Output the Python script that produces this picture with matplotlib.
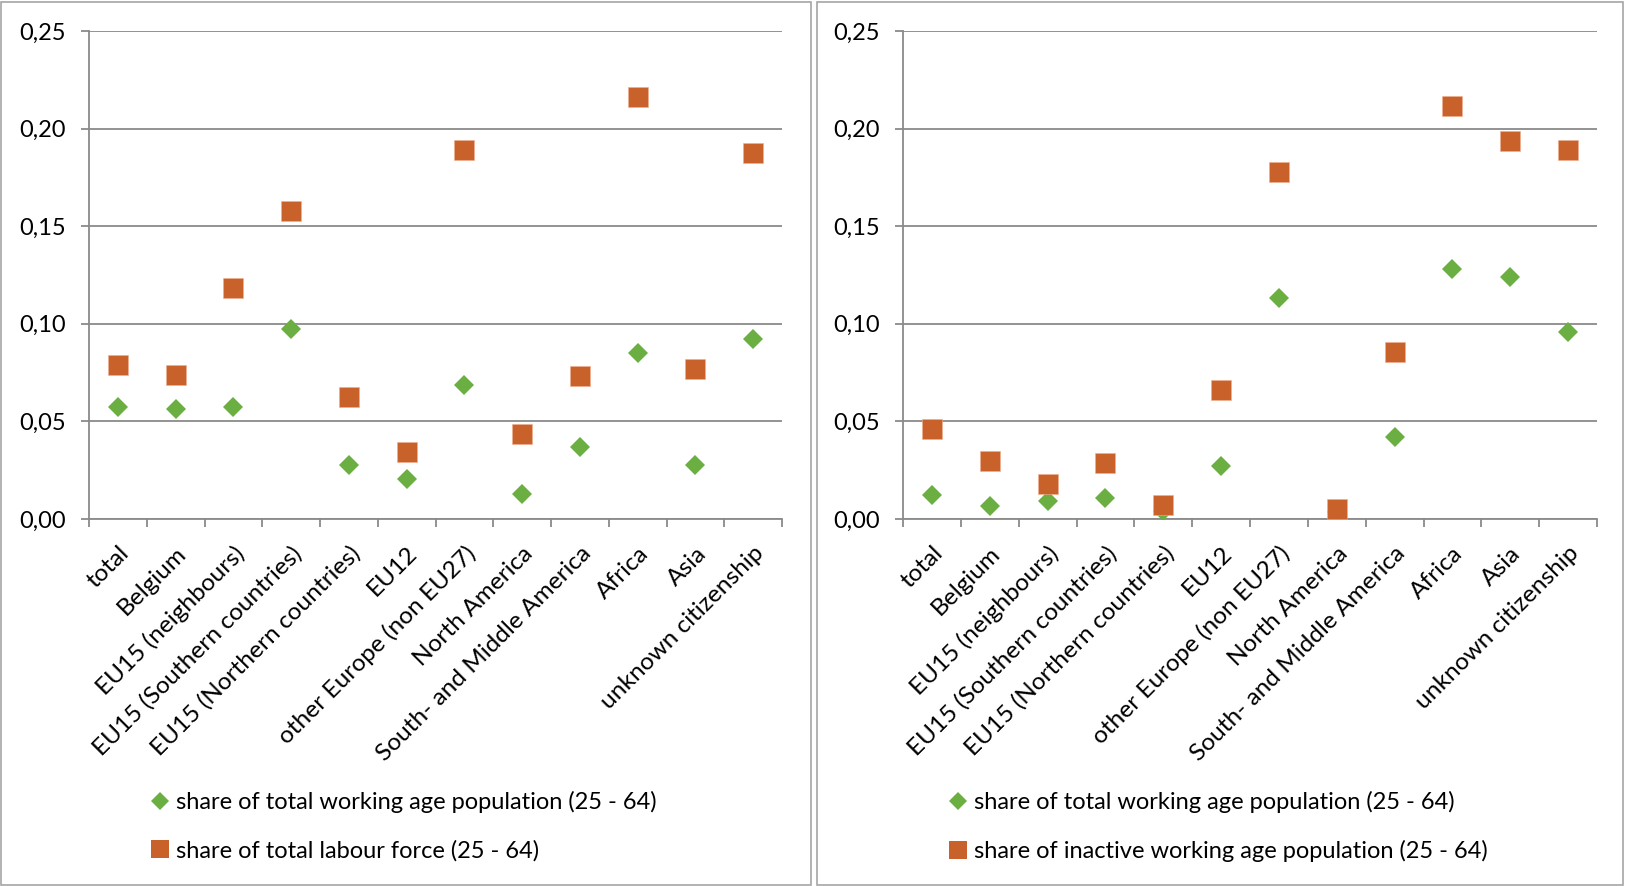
import matplotlib
matplotlib.use("Agg")
import matplotlib.pyplot as plt
from matplotlib.lines import Line2D
from matplotlib.patches import Rectangle
from matplotlib.ticker import FuncFormatter, FixedLocator
from matplotlib.transforms import ScaledTranslation

plt.rcParams['font.family'] = ['Lato', 'DejaVu Sans']

categories = [
    "total", "Belgium", "EU15 (neighbours)", "EU15 (Southern countries)",
    "EU15 (Northern countries)", "EU12", "other Europe (non EU27)",
    "North America", "South- and Middle America", "Africa", "Asia",
    "unknown citizenship",
]

# left panel
working_age_left = [0.0575, 0.0564, 0.0575, 0.0971, 0.0275, 0.0203,
                    0.0684, 0.0127, 0.0370, 0.0850, 0.0277, 0.0924]
labour_force = [0.0788, 0.0739, 0.1183, 0.1580, 0.0626, 0.0344,
                0.1888, 0.0435, 0.0732, 0.2160, 0.0769, 0.1874]

# right panel
working_age_right = [0.0123, 0.0069, 0.0092, 0.0109, 0.0043, 0.0270,
                     0.1132, 0.0035, 0.0420, 0.1282, 0.1238, 0.0956]
inactive = [0.0460, 0.0298, 0.0180, 0.0287, 0.0070, 0.0663,
            0.1777, 0.0049, 0.0857, 0.2117, 0.1939, 0.1890]

label_wa = "share of total working age population (25 - 64)"
label_lf = "share of total labour force (25 - 64)"
label_in = "share of inactive working age population (25 - 64)"

GREEN = "#6BAF42"
ORANGE = "#C8612A"
GRID = "#8A8A8A"
W, H = 1625, 886
FS = 17

fig = plt.figure(figsize=(W / 100, H / 100), dpi=100)

# panel frames
for x0, x1 in [(1, 811), (817, 1623)]:
    fig.add_artist(Rectangle((x0 / W, 1 / H), (x1 - x0) / W, (883) / H,
                             transform=fig.transFigure, fill=False,
                             edgecolor="#A6A6A6", linewidth=1.2))


def draw_panel(left_px, right_px, green_vals, orange_vals, orange_label,
               legend_x_px):
    ax = fig.add_axes([left_px / W, 1 - 519 / H,
                       (right_px - left_px) / W, (519 - 31) / H])
    x = list(range(len(categories)))
    ax.plot(x, green_vals, linestyle="none", marker="D", markersize=10.2,
            color=GREEN, markeredgewidth=0, zorder=3, label=label_wa)
    ax.plot(x, orange_vals, linestyle="none", marker="s", markersize=14.2,
            color=ORANGE, markeredgecolor="#F0B090", markeredgewidth=0.4,
            zorder=4, label=orange_label)
    ax.set_xlim(-0.5, len(categories) - 0.5)
    ax.set_ylim(0, 0.25)
    ax.set_yticks([0, 0.05, 0.10, 0.15, 0.20, 0.25])
    ax.yaxis.set_major_formatter(FuncFormatter(lambda v, p: f"{v:.2f}".replace(".", ",")))
    ax.grid(axis="y", color=GRID, linewidth=1.3, zorder=0)
    ax.set_axisbelow(True)
    for s in ["top", "right"]:
        ax.spines[s].set_visible(False)
    ax.spines["left"].set_color(GRID)
    ax.spines["left"].set_linewidth(1.3)
    ax.spines["bottom"].set_color(GRID)
    ax.spines["bottom"].set_linewidth(1.3)
    ax.tick_params(axis="y", length=6, width=1.3, color=GRID, pad=11,
                   labelsize=FS, labelcolor="black")
    # category labels
    ax.set_xticks(x)
    ax.set_xticklabels(categories, rotation=45, ha="right",
                       rotation_mode="anchor", fontsize=17.6)
    shift = ScaledTranslation(-3 / 100, 0, fig.dpi_scale_trans)
    for lab in ax.get_xticklabels():
        lab.set_transform(lab.get_transform() + shift)
    ax.tick_params(axis="x", which="major", length=0, pad=17)
    ax.xaxis.set_minor_locator(FixedLocator([i - 0.5 for i in range(len(categories) + 1)]))
    ax.tick_params(axis="x", which="minor", length=6, width=1.3, color=GRID,
                   direction="out")
    handles = [
        Line2D([], [], linestyle="none", marker="D", markersize=9,
               color=GREEN, markeredgewidth=0),
        Line2D([], [], linestyle="none", marker="s", markersize=12.5,
               color=ORANGE, markeredgewidth=0),
    ]
    fig.legend(handles, [label_wa, orange_label], loc="upper left",
               bbox_to_anchor=(legend_x_px / W, 1 - 791 / H),
               frameon=False, fontsize=FS, handlelength=0.7,
               handletextpad=0.3, labelspacing=1.15, borderpad=0,
               borderaxespad=0)
    return ax


draw_panel(89, 782, working_age_left, labour_force, label_lf, 152)
draw_panel(903, 1597, working_age_right, inactive, label_in, 950)

fig.savefig("out.png", dpi=100)
